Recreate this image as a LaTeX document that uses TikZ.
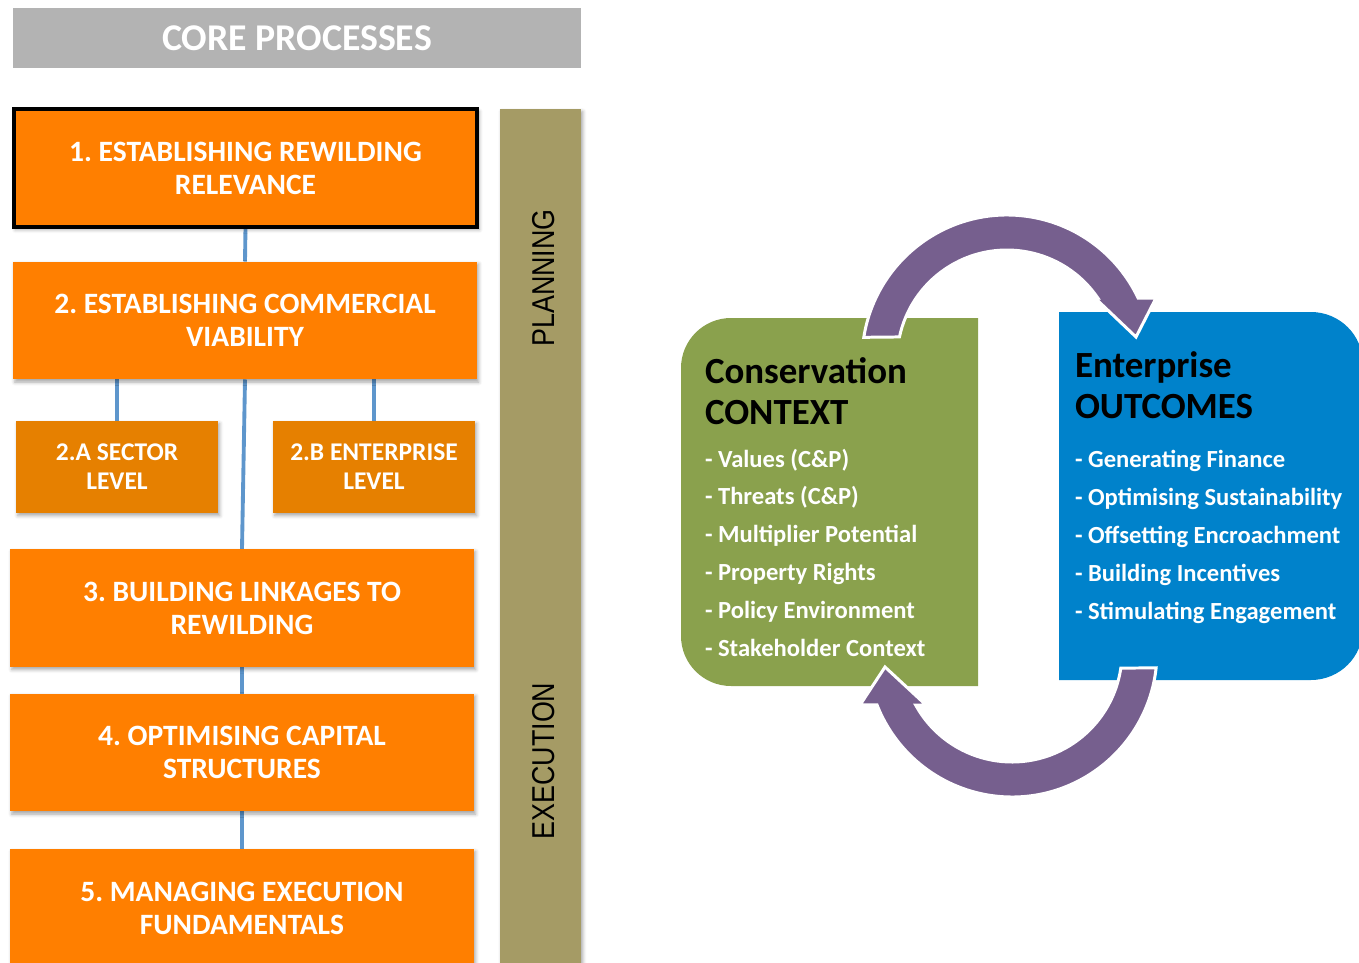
\documentclass[tikz,border=0pt]{standalone}
\usepackage{fontspec}
\setmainfont{Carlito}
\newfontfamily\phasefont{Liberation Sans}
\usepackage{graphicx}
\frenchspacing
\definecolor{coregrey}{HTML}{B3B3B3}
\definecolor{stageorange}{HTML}{FF7F00}
\definecolor{suborange}{HTML}{E68000}
\definecolor{phasekhaki}{HTML}{A59B65}
\definecolor{linkblue}{HTML}{5E96CC}
\definecolor{consgreen}{HTML}{8AA14D}
\definecolor{entblue}{HTML}{0082CB}
\definecolor{cyclepurple}{HTML}{765F8E}
\usetikzlibrary{positioning}
\usetikzlibrary{backgrounds}
\usetikzlibrary{shadows.blur}
\tikzstyle{base}=[x=0.02cm, y=0.02cm, inner sep=0pt, outer sep=0pt]
\tikzstyle{softshadow}=[blur shadow={shadow xshift=1pt, shadow yshift=-1.5pt, shadow blur radius=2pt, shadow opacity=35}]
\tikzstyle{header}=[rectangle, fill=coregrey, text=white, minimum width=11.36cm, minimum height=1.2cm, font=\bfseries\fontsize{21.5}{24}\selectfont]
\tikzstyle{stage}=[rectangle, fill=stageorange, text=white, align=center, minimum width=9.28cm, minimum height=2.36cm, font=\bfseries\fontsize{16.8}{18.8}\selectfont, softshadow]
\tikzstyle{substage}=[rectangle, fill=suborange, text=white, align=center, minimum width=4.04cm, minimum height=1.84cm, font=\bfseries\fontsize{14.5}{16.5}\selectfont, softshadow]
\tikzstyle{phasebar}=[rectangle, fill=phasekhaki, minimum width=1.62cm, minimum height=17.24cm, softshadow]
\tikzstyle{phase}=[rotate=90, text=black, font=\phasefont\fontsize{18}{20}\selectfont]
\tikzstyle{link}=[draw=linkblue, line width=2.2pt]
% anchored at the baseline of the last line
\tikzstyle{boxtitle}=[anchor=base west, align=left, text=black, font=\bfseries\fontsize{21}{22.8}\selectfont]
\tikzstyle{boxlist}=[anchor=base west, align=left, text=white, font=\bfseries\fontsize{14}{21.5}\selectfont]
\tikzstyle{turnarrow}=[fill=cyclepurple, draw=white, line width=1.7pt]

\begin{document}
\begin{tikzpicture}[base]
    \useasboundingbox (0,0) rectangle (1359,-963);

    % core processes
    \node [header] (core) at (297,-38) {CORE PROCESSES};
    \node [stage, draw=black, line width=2.3pt] (relevance) at (245.5,-168) {1. ESTABLISHING REWILDING\\RELEVANCE};
    \node [stage] (viability) at (245,-320.5) {2. ESTABLISHING COMMERCIAL\\VIABILITY};
    \node [substage] (sector) at (117,-467) {2.A SECTOR\\LEVEL};
    \node [substage] (enterprise) at (374,-467) {2.B ENTERPRISE\\LEVEL};
    \node [stage] (linkages) at (242,-608) {3. BUILDING LINKAGES TO\\REWILDING};
    \node [stage] (capital) at (242,-752.5) {4. OPTIMISING CAPITAL\\STRUCTURES};
    \node [stage] (fundamentals) at (242,-908) {5. MANAGING EXECUTION\\FUNDAMENTALS};

    \node [phasebar] (phases) at (540.5,-540) {};
    \node [phase] (planning) at (544,-278) {\scalebox{0.85}[1]{PLANNING}};
    \node [phase] (execution) at (544,-761) {\scalebox{0.85}[1]{EXECUTION}};

    \begin{scope}[on background layer]
        \draw [link] (relevance.south) -- (viability.north);
        \draw [link] (sector.north) -- (sector.north |- viability.south);
        \draw [link] (enterprise.north) -- (enterprise.north |- viability.south);
        \draw [link] (viability.south) -- (linkages.north);
        \draw [link] (linkages.south) -- (capital.north);
        \draw [link] (capital.south) -- (fundamentals.north);
    \end{scope}

    % context / outcomes cycle
    \fill [consgreen] (978,-318) -- (731,-318) arc[start angle=90, end angle=180, radius=50]
        -- (681,-636) arc[start angle=180, end angle=270, radius=50] -- (978,-686) -- cycle;
    \fill [entblue] (1059,-312) -- (1311,-312) arc[start angle=90, end angle=0, radius=52]
        -- (1363,-628) arc[start angle=0, end angle=-90, radius=52] -- (1059,-680) -- cycle;

    \node [boxtitle] (constitle) at (705,-424) {Conservation\\CONTEXT};
    \node [boxlist] (conslist) at (705,-656) {- Values (C\&P)\\- Threats (C\&P)\\- Multiplier Potential\\- Property Rights\\- Policy Environment\\- Stakeholder Context};
    \node [boxtitle] (enttitle) at (1075,-418) {Enterprise\\OUTCOMES};
    \node [boxlist] (entlist) at (1075,-619) {- Generating Finance\\- Optimising Sustainability\\- Offsetting Encroachment\\- Building Incentives\\- Stimulating Engagement};

    \coordinate (upper) at (1007,-360);
    \coordinate (lower) at (1012,-652);
    \draw [turnarrow] ([shift={(171:145)}]upper) arc[start angle=171, end angle=25.3, radius=145]
        -- (1156,-298) -- (1136,-337) -- (1095,-298)
        -- ([shift={(34.3:110)}]upper) arc[start angle=34.3, end angle=167.9, radius=110] -- cycle;
    \draw [turnarrow] ([shift={(-6.3:145)}]lower) arc[start angle=-6.3, end angle=-158.6, radius=145]
        -- (860,-705) -- (885,-667) -- (926,-705)
        -- ([shift={(-151.2:110)}]lower) arc[start angle=-151.2, end angle=-8.4, radius=110] -- cycle;
\end{tikzpicture}
\end{document}
